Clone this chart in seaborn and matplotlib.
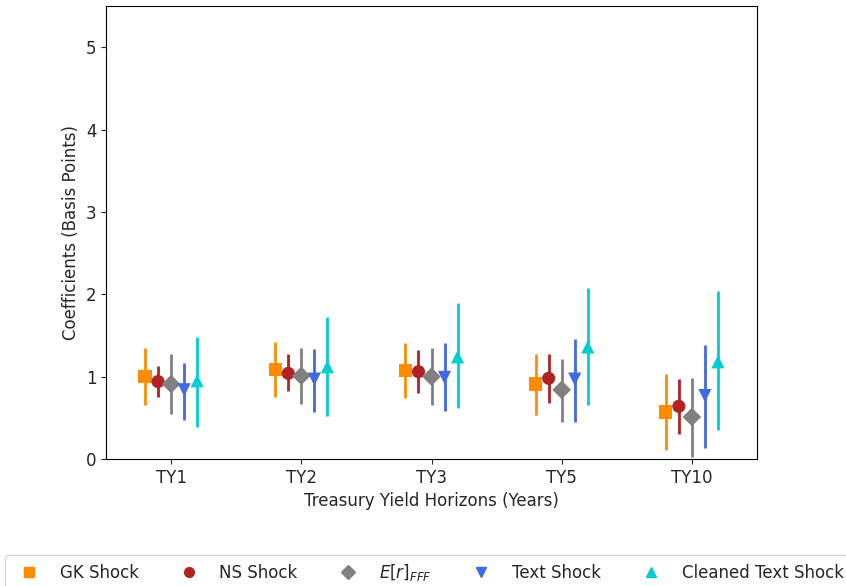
import numpy as np
import pandas as pd
import matplotlib
matplotlib.use("Agg")
import matplotlib.pyplot as plt
from matplotlib.lines import Line2D
import seaborn as sns

horizons = ["TY1", "TY2", "TY3", "TY5", "TY10"]
series = ["GK Shock", "NS Shock", "$E[r]_{FFF}$", "Text Shock", "Cleaned Text Shock"]

gk_coef = [1.00, 1.09, 1.07, 0.91, 0.57]
gk_lo   = [0.66, 0.75, 0.74, 0.53, 0.11]
gk_hi   = [1.35, 1.42, 1.41, 1.27, 1.03]

ns_coef = [0.94, 1.04, 1.06, 0.98, 0.64]
ns_lo   = [0.75, 0.82, 0.80, 0.68, 0.30]
ns_hi   = [1.13, 1.27, 1.32, 1.28, 0.97]

fff_coef = [0.91, 1.01, 1.00, 0.84, 0.51]
fff_lo   = [0.55, 0.67, 0.65, 0.45, 0.03]
fff_hi   = [1.27, 1.35, 1.35, 1.22, 0.98]

text_coef = [0.84, 0.97, 0.99, 0.97, 0.77]
text_lo   = [0.47, 0.57, 0.58, 0.45, 0.13]
text_hi   = [1.17, 1.33, 1.41, 1.46, 1.38]

clean_coef = [0.95, 1.12, 1.24, 1.36, 1.18]
clean_lo   = [0.39, 0.52, 0.62, 0.66, 0.35]
clean_hi   = [1.48, 1.72, 1.89, 2.08, 2.04]

coefs = [gk_coef, ns_coef, fff_coef, text_coef, clean_coef]
los = [gk_lo, ns_lo, fff_lo, text_lo, clean_lo]
his = [gk_hi, ns_hi, fff_hi, text_hi, clean_hi]

colors = ["#FF8C00", "#B22222", "#808080", "#4169E1", "#00CED1"]
markers = ["s", "o", "D", "v", "^"]
offsets = [-0.2, -0.1, 0.0, 0.1, 0.2]

rows = []
for si, name in enumerate(series):
    for hi_, h in enumerate(horizons):
        rows.append({"series": name, "horizon": h,
                     "x": hi_ + offsets[si],
                     "coef": coefs[si][hi_], "lo": los[si][hi_], "hi": his[si][hi_]})
df = pd.DataFrame(rows)

sns.set_style("ticks")
plt.rcParams["font.family"] = ["DejaVu Sans"]

fig = plt.figure(figsize=(8.46, 5.86), dpi=100)
ax = fig.add_axes([106/846, 1 - 459/586, (757-106)/846, (459-6)/586])

for si, name in enumerate(series):
    sub = df[df["series"] == name]
    ax.vlines(sub["x"], sub["lo"], sub["hi"], color=colors[si], lw=2, zorder=2)

sns.scatterplot(data=df, x="x", y="coef", hue="series", style="series",
                hue_order=series, style_order=series,
                palette=colors, markers=markers, s=90, edgecolor="none",
                legend=False, ax=ax, zorder=3)

ax.set_xlim(-0.5, 4.5)
ax.set_ylim(0, 5.5)
ax.set_xticks(range(len(horizons)))
ax.set_xticklabels(horizons)
ax.set_yticks([0, 1, 2, 3, 4, 5])
ax.tick_params(labelsize=12)
ax.set_xlabel("Treasury Yield Horizons (Years)", fontsize=12)
ax.set_ylabel("Coefficients (Basis Points)", fontsize=12)
for sp in ax.spines.values():
    sp.set_visible(True)
    sp.set_color("black")

handles = [Line2D([], [], ls="none", marker=m, color=c, markersize=7)
           for m, c in zip(markers, colors)]
fig.legend(handles, series, loc="upper center", bbox_to_anchor=(428/846, 1 - 547/586),
           ncol=5, fontsize=12, frameon=True, columnspacing=2.0, handletextpad=0.85)

fig.savefig("out.png", dpi=100)
